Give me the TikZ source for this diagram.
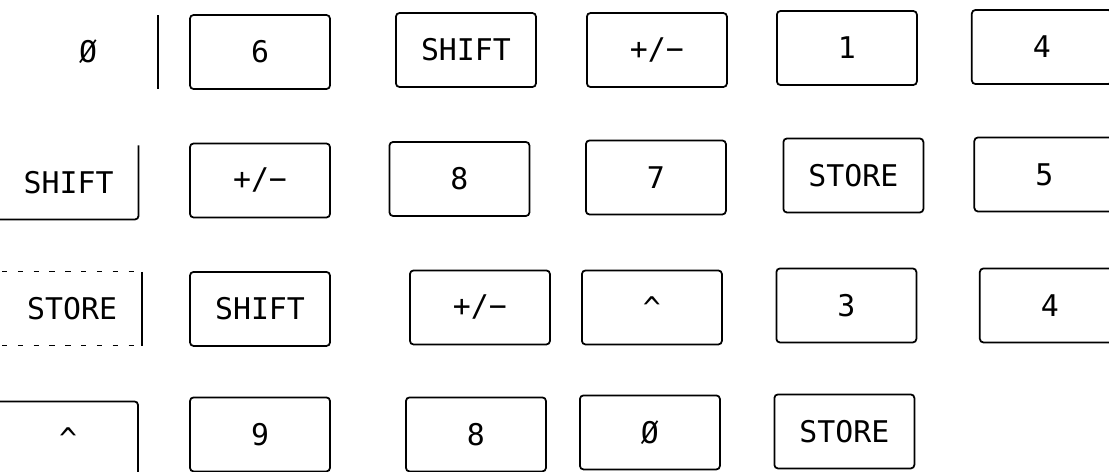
\documentclass[tikz,border=0pt]{standalone}
\usepackage{fontspec}
\setmonofont{DejaVu Sans Mono}
\usepackage{tikz}
\usetikzlibrary{positioning}
\tikzset{
key_box/.style={rectangle, draw, rounded corners=2pt, line width=1pt, minimum width=2.8cm, minimum height=1.48cm, inner sep=0pt, outer sep=0pt, font=\ttfamily\fontsize{17}{20}\selectfont},
cut_key/.style={key_box, draw=none},
key_edge/.style={line width=1pt, rounded corners=2pt},
faint_edge/.style={line width=0.6pt, loosely dashed}
}

\begin{document}
\begin{tikzpicture}[x=0.02cm, y=-0.02cm]
    \useasboundingbox (0,0) rectangle (1109,471);
    \clip (0,0) rectangle (1109,471);

    % row 1
    \node[key_box] (key_1_2) at (260,52) {6};
    \node[cut_key] (key_1_1) [left=0.64cm of key_1_2] {Ø};
    \node[key_box] (key_1_3) [right=1.32cm of key_1_2, yshift=0.04cm] {SHIFT};
    \node[key_box] (key_1_4) [right=1.02cm of key_1_3] {+/−};
    \node[key_box] (key_1_5) [right=1cm of key_1_4, yshift=0.04cm] {1};
    \node[key_box] (key_1_6) [right=1.1cm of key_1_5, yshift=0.02cm] {4};

    % row 2
    \node[key_box] (key_2_2) [below=1.09cm of key_1_2] {+/−};
    \node[cut_key] (key_2_1) [left=1.03cm of key_2_2, yshift=-0.04cm] {SHIFT};
    \node[key_box] (key_2_3) [right=1.19cm of key_2_2, yshift=0.03cm] {8};
    \node[key_box] (key_2_4) [right=1.13cm of key_2_3, yshift=0.03cm] {7};
    \node[key_box] (key_2_5) [right=1.15cm of key_2_4, yshift=0.04cm] {STORE};
    \node[key_box] (key_2_6) [right=1.02cm of key_2_5, yshift=0.02cm] {5};

    % row 3
    \node[key_box] (key_3_2) [below=1.09cm of key_2_2] {SHIFT};
    \node[cut_key] (key_3_1) [left=0.96cm of key_3_2] {STORE};
    \node[key_box] (key_3_3) [right=1.6cm of key_3_2, yshift=0.03cm] {+/−};
    \node[key_box] (key_3_4) [right=0.64cm of key_3_3] {\textasciicircum};
    \node[key_box] (key_3_5) [right=1.09cm of key_3_4, yshift=0.04cm] {3};
    \node[key_box] (key_3_6) [right=1.27cm of key_3_5] {4};

    % row 4
    \node[key_box] (key_4_2) [below=1.03cm of key_3_2] {9};
    \node[cut_key] (key_4_1) [left=1.04cm of key_4_2, yshift=-0.08cm] {\textasciicircum};
    \node[key_box] (key_4_3) [right=1.52cm of key_4_2] {8};
    \node[key_box] (key_4_4) [right=0.68cm of key_4_3, yshift=0.04cm] {Ø};
    \node[key_box] (key_4_5) [right=1.09cm of key_4_4, yshift=0.02cm] {STORE};

    % keys cut by the left margin
    \draw[key_edge] (key_1_1.north east) -- (key_1_1.south east);
    \draw[key_edge] (key_2_1.north east) -- (key_2_1.south east) -- (key_2_1.south west);
    \draw[key_edge] (key_3_1.north east) -- (key_3_1.south east);
    \draw[faint_edge] (key_3_1.north west) -- (key_3_1.north east) (key_3_1.south west) -- (key_3_1.south east);
    \draw[key_edge] (key_4_1.north west) -- (key_4_1.north east) -- (key_4_1.south east);
\end{tikzpicture}
\end{document}
